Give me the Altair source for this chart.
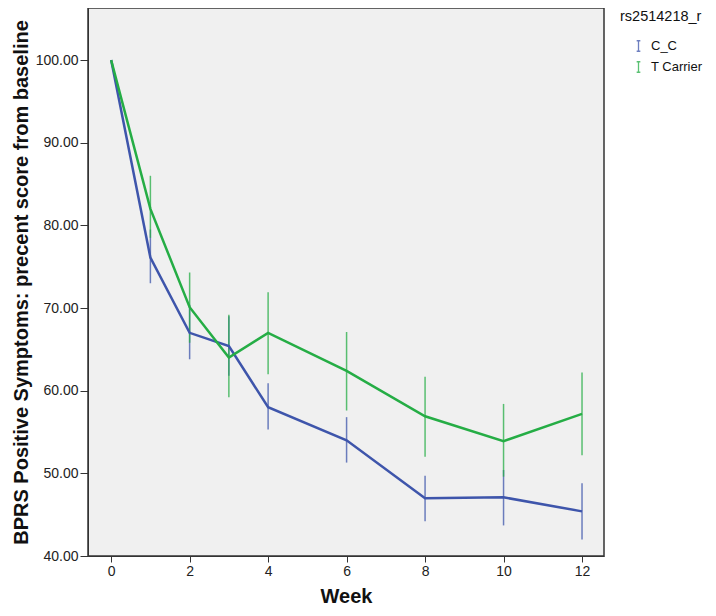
import altair as alt
import pandas as pd

weeks = [0, 1, 2, 3, 4, 6, 8, 10, 12]
groups = ["C_C", "T Carrier"]
cc_mean = [100.0, 76.1, 67.0, 65.4, 58.0, 54.0, 47.0, 47.1, 45.4]
cc_low = [100.0, 73.0, 63.8, 61.8, 55.3, 51.3, 44.2, 43.7, 42.0]
cc_high = [100.0, 79.5, 70.4, 69.0, 60.9, 56.8, 49.7, 50.4, 48.8]
tc_mean = [100.0, 82.0, 70.1, 64.0, 67.0, 62.4, 56.9, 53.9, 57.2]
tc_low = [100.0, 78.5, 65.8, 59.2, 62.0, 57.6, 52.0, 49.6, 52.2]
tc_high = [100.0, 86.0, 74.3, 69.2, 71.9, 67.1, 61.7, 58.4, 62.2]
y_ticks = [40, 50, 60, 70, 80, 90, 100]
x_ticks = [0, 2, 4, 6, 8, 10, 12]
colors = ["#3E55AB", "#25AD45"]

rows = []
for g, m, lo, hi in [(groups[0], cc_mean, cc_low, cc_high), (groups[1], tc_mean, tc_low, tc_high)]:
    for w, a, b, c in zip(weeks, m, lo, hi):
        rows.append({"Week": w, "group": g, "mean": a, "low": b, "high": c})
df = pd.DataFrame(rows)

FONT = "Liberation Sans"

x = alt.X("Week:Q", scale=alt.Scale(domain=[-0.59, 12.56], nice=False, zero=False),
          axis=alt.Axis(values=x_ticks, title="Week", grid=False, tickSize=6,
                        labelFontSize=14, titleFontSize=20, titleFontWeight="bold",
                        titlePadding=8, labelColor="#222", titleColor="#111",
                        domainColor="#333", tickColor="#333", labelFont=FONT, titleFont=FONT))
yscale = alt.Scale(domain=[40, 106.3], nice=False, zero=False)
legend = alt.Legend(title="rs2514218_r", orient="none", legendX=532, legendY=2,
                    symbolType="M-0.35,-1H0.35M0,-1V1M-0.35,1H0.35",
                    symbolFillColor="transparent", symbolStrokeWidth=1.3,
                    symbolSize=110, symbolOffset=12, labelOffset=6,
                    labelFontSize=13, titleFontSize=14.5,
                    titleFontWeight="normal", labelFont=FONT, titleFont=FONT,
                    titlePadding=15, rowPadding=4, labelColor="#111",
                    titleColor="#111")
color = alt.Color("group:N", scale=alt.Scale(domain=groups, range=colors), legend=legend)

lines = alt.Chart(df).mark_line(strokeWidth=2.5).encode(
    x=x,
    y=alt.Y("mean:Q", scale=yscale,
            axis=alt.Axis(values=y_ticks, format=".2f", grid=False, tickSize=8,
                          title="BPRS Positive Symptoms: precent score from baseline",
                          labelFontSize=14, titleFontSize=20, titleFontWeight="bold",
                          titlePadding=4, labelColor="#222", titleColor="#111",
                          domainColor="#333", tickColor="#333", labelFont=FONT, titleFont=FONT)),
    color=color,
)

bars = alt.Chart(df).mark_rule(strokeWidth=1.5, opacity=0.75).encode(
    x=alt.X("Week:Q"),
    y=alt.Y("low:Q", scale=yscale),
    y2="high:Q",
    color=color,
)

chart = alt.layer(bars, lines).properties(
    width=516, height=548,
    background="white",
    autosize=alt.AutoSizeParams(type="none"),
    padding={"left": 80, "top": 0, "right": 104, "bottom": 52},
).configure_view(fill="#F0F0F0", stroke="#333", strokeWidth=1.5)

chart.save("out.html", embed_options={"renderer": "svg", "actions": False})
